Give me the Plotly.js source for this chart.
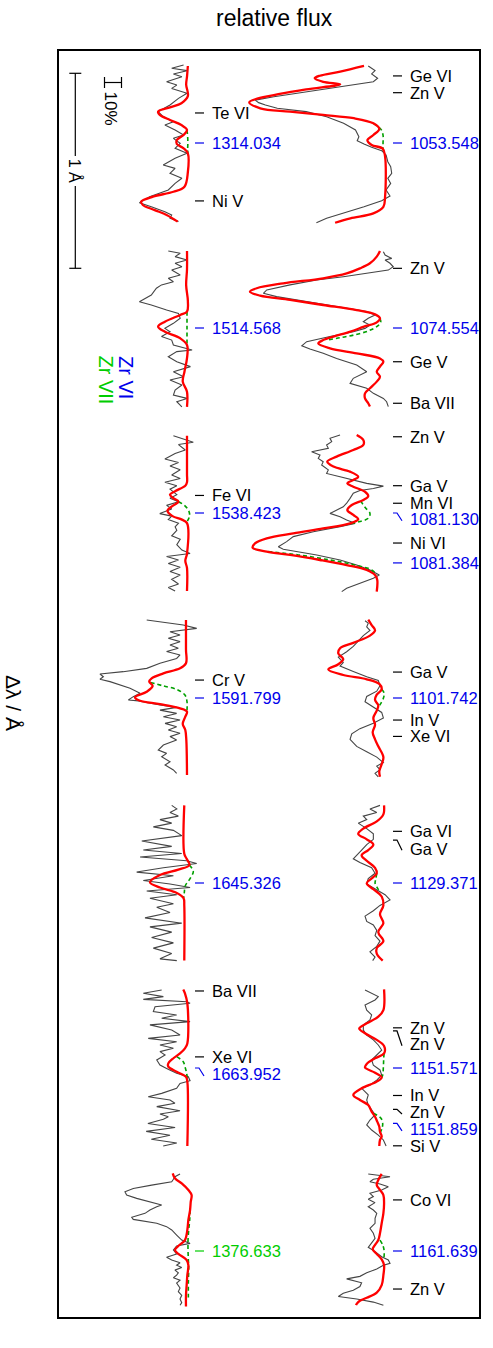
<!DOCTYPE html>
<html><head><meta charset="utf-8">
<script src="https://cdn.plot.ly/plotly-3.0.1.min.js"></script>
<style>html,body{margin:0;padding:0;background:#fff}#chart{width:493px;height:1348px}</style>
</head><body><div id="chart"></div>
<script>
// ---------- DATA: [Δλ (Å, relative to the Zr line), relative flux] ----------
const obsL1=[[-0.400,0.98],[-0.383,0.91],[-0.371,1.00],[-0.354,0.92],[-0.340,0.97],[-0.314,0.88],[-0.297,0.94],[-0.280,0.91],[-0.255,1.00],[-0.229,0.95],[-0.195,0.90],[-0.161,0.83],[-0.135,0.86],[-0.109,0.92],[-0.092,0.87],[-0.067,0.93],[-0.041,0.98],[-0.024,0.92],[0.002,0.96],[0.027,0.93],[0.053,1.00],[0.078,0.93],[0.113,0.86],[0.130,0.93],[0.155,0.90],[0.181,0.97],[0.207,0.93],[0.241,0.89],[0.275,0.78],[0.306,0.72],[0.327,0.79],[0.352,0.87],[0.369,0.91],[0.386,0.90],[0.403,0.95]];
const modL1=[[-0.395,1.005],[-0.34,1.0],[-0.30,0.995],[-0.24,1.005],[-0.204,0.967],[-0.183,0.90],[-0.161,0.83],[-0.144,0.84],[-0.118,0.90],[-0.092,0.967],[-0.067,1.0],[-0.041,0.98],[-0.015,0.94],[0.005,0.94],[0.027,0.98],[0.053,1.005],[0.15,1.005],[0.224,0.985],[0.25,0.92],[0.275,0.80],[0.301,0.73],[0.318,0.74],[0.344,0.81],[0.369,0.88],[0.403,0.945]];
const noZrL1=[[-0.067,1.0],[-0.03,1.004],[0.0,1.005],[0.03,1.004],[0.053,1.005]];

const obsR1=[[-0.395,0.925],[-0.371,0.965],[-0.354,0.945],[-0.332,0.98],[-0.314,0.955],[-0.289,0.76],[-0.263,0.56],[-0.237,0.37],[-0.220,0.26],[-0.207,0.28],[-0.195,0.32],[-0.178,0.39],[-0.161,0.56],[-0.135,0.68],[-0.101,0.78],[-0.067,0.85],[-0.032,0.87],[-0.012,0.86],[0.005,0.90],[0.022,0.945],[0.039,1.004],[0.062,1.03],[0.096,1.04],[0.121,1.057],[0.155,1.063],[0.181,1.04],[0.207,1.057],[0.241,1.03],[0.272,1.053],[0.296,1.004],[0.327,0.90],[0.361,0.78],[0.386,0.68],[0.409,0.62]];
const modR1=[[-0.395,0.90],[-0.366,0.76],[-0.345,0.64],[-0.332,0.61],[-0.314,0.66],[-0.301,0.76],[-0.275,0.56],[-0.246,0.37],[-0.209,0.225],[-0.178,0.29],[-0.161,0.465],[-0.144,0.66],[-0.127,0.84],[-0.101,0.955],[-0.072,0.99],[-0.041,0.955],[-0.015,0.92],[0.01,0.945],[0.029,1.01],[0.07,1.024],[0.275,1.024],[0.327,1.014],[0.361,0.955],[0.386,0.82],[0.409,0.73]];
const noZrR1=[[-0.101,0.955],[-0.07,1.0],[-0.04,1.012],[0.0,1.012],[0.03,1.012],[0.05,1.02]];

const obsL2=[[-0.395,0.89],[-0.383,0.96],[-0.366,0.93],[-0.349,1.0],[-0.332,0.93],[-0.314,0.97],[-0.297,0.91],[-0.272,0.96],[-0.255,0.89],[-0.237,0.92],[-0.221,0.85],[-0.204,0.82],[-0.169,0.79],[-0.135,0.72],[-0.118,0.79],[-0.109,0.82],[-0.092,0.88],[-0.075,0.95],[-0.05,0.96],[-0.024,0.92],[0.002,0.87],[0.019,0.90],[0.044,0.85],[0.062,0.91],[0.087,0.92],[0.113,1.03],[0.121,0.94],[0.147,0.89],[0.173,0.94],[0.198,1.02],[0.224,0.92],[0.25,0.98],[0.267,0.90],[0.292,0.97],[0.318,0.93],[0.344,0.92],[0.361,1.0],[0.378,0.94],[0.404,0.97]];
const modL2=[[-0.395,1.0],[-0.30,1.0],[-0.22,0.995],[-0.14,1.005],[-0.084,1.0],[-0.067,0.96],[-0.032,0.87],[-0.007,0.83],[0.019,0.87],[0.053,0.96],[0.087,1.0],[0.155,1.0],[0.224,0.985],[0.275,0.975],[0.327,1.0],[0.404,1.0]];
const noZrL2=[[-0.084,1.0],[-0.04,1.0],[0.0,1.0],[0.04,1.0],[0.087,1.0]];

const obsR2=[[-0.391,1.014],[-0.374,1.024],[-0.357,1.063],[-0.349,1.024],[-0.332,1.053],[-0.314,1.072],[-0.297,1.043],[-0.28,0.916],[-0.263,0.778],[-0.246,0.622],[-0.221,0.465],[-0.195,0.328],[-0.178,0.308],[-0.161,0.386],[-0.135,0.563],[-0.109,0.739],[-0.084,0.916],[-0.067,0.965],[-0.05,0.925],[-0.032,0.896],[-0.015,0.935],[0.002,0.906],[0.019,0.837],[0.044,0.70],[0.07,0.563],[0.091,0.534],[0.108,0.582],[0.13,0.66],[0.156,0.739],[0.19,0.857],[0.224,0.916],[0.258,0.837],[0.284,0.818],[0.309,0.916],[0.335,0.955],[0.361,1.014],[0.378,1.033],[0.403,1.043]];
const modR2=[[-0.395,0.994],[-0.366,0.975],[-0.332,0.935],[-0.306,0.876],[-0.28,0.798],[-0.255,0.66],[-0.229,0.425],[-0.204,0.269],[-0.186,0.229],[-0.166,0.288],[-0.144,0.465],[-0.118,0.66],[-0.092,0.857],[-0.07,0.965],[-0.05,0.994],[-0.029,0.975],[-0.007,0.90],[0.019,0.82],[0.044,0.72],[0.062,0.66],[0.079,0.631],[0.104,0.70],[0.13,0.857],[0.156,0.994],[0.173,1.014],[0.198,0.994],[0.224,0.975],[0.25,0.994],[0.275,0.975],[0.309,0.935],[0.335,0.906],[0.361,0.906],[0.386,0.925],[0.403,0.935]];
const noZrR2=[[-0.05,0.994],[-0.029,0.998],[-0.007,0.975],[0.015,0.925],[0.036,0.84],[0.05,0.76],[0.062,0.68]];

const obsL3=[[-0.396,0.92],[-0.378,0.99],[-0.363,1.037],[-0.351,0.95],[-0.323,0.99],[-0.305,0.93],[-0.277,0.87],[-0.259,0.95],[-0.241,0.90],[-0.222,0.96],[-0.195,0.91],[-0.177,0.96],[-0.158,0.87],[-0.14,0.94],[-0.122,0.90],[-0.094,0.94],[-0.076,0.90],[-0.058,0.95],[-0.039,0.88],[-0.021,0.91],[0.003,0.84],[0.016,0.91],[0.034,0.89],[0.052,0.95],[0.071,0.93],[0.089,0.94],[0.117,0.91],[0.135,0.96],[0.162,0.94],[0.19,0.97],[0.208,1.018],[0.223,0.88],[0.241,0.95],[0.259,0.89],[0.278,0.96],[0.30,0.90],[0.318,0.96],[0.34,0.91],[0.364,0.95],[0.382,0.89],[0.40,0.93]];
const modL3=[[-0.396,1.0],[-0.30,1.0],[-0.20,1.0],[-0.158,1.0],[-0.14,0.99],[-0.112,0.93],[-0.094,0.90],[-0.076,0.92],[-0.058,0.95],[-0.039,0.92],[-0.012,0.885],[0.016,0.915],[0.034,0.97],[0.052,1.0],[0.208,1.0],[0.245,0.99],[0.282,1.0],[0.40,1.0]];
const noZrL3=[[-0.058,0.95],[-0.039,0.985],[-0.012,1.01],[0.016,1.015],[0.045,1.0]];

const obsR3=[[-0.40,0.759],[-0.383,0.70],[-0.366,0.71],[-0.349,0.68],[-0.332,0.69],[-0.314,0.592],[-0.297,0.641],[-0.28,0.631],[-0.263,0.66],[-0.246,0.651],[-0.221,0.69],[-0.203,0.68],[-0.186,0.759],[-0.169,0.837],[-0.152,0.916],[-0.138,1.014],[-0.126,0.955],[-0.115,0.876],[-0.101,0.837],[-0.075,0.818],[-0.05,0.798],[-0.032,0.778],[-0.015,0.739],[0.002,0.70],[0.019,0.759],[0.036,0.798],[0.053,0.847],[0.07,0.759],[0.096,0.602],[0.121,0.484],[0.147,0.445],[0.173,0.396],[0.186,0.425],[0.198,0.504],[0.215,0.622],[0.241,0.759],[0.267,0.857],[0.292,0.935],[0.318,0.99],[0.335,0.955],[0.361,0.876],[0.386,0.798],[0.403,0.769]];
const modR3=[[-0.40,0.857],[-0.374,0.896],[-0.349,0.896],[-0.323,0.837],[-0.289,0.739],[-0.263,0.684],[-0.238,0.72],[-0.212,0.818],[-0.186,0.866],[-0.169,0.837],[-0.152,0.802],[-0.135,0.837],[-0.109,0.906],[-0.087,0.925],[-0.067,0.896],[-0.041,0.828],[-0.015,0.802],[0.01,0.837],[0.032,0.866],[0.053,0.818],[0.079,0.66],[0.104,0.484],[0.13,0.328],[0.156,0.259],[0.178,0.245],[0.198,0.328],[0.215,0.465],[0.241,0.641],[0.267,0.798],[0.292,0.916],[0.318,0.965],[0.344,0.978],[0.403,0.975]];
const noZrR3a=[[-0.062,0.88],[-0.029,0.906],[0.002,0.935],[0.027,0.925],[0.045,0.87],[0.058,0.80]];
const noZrR3b=[[0.198,0.337],[0.215,0.514],[0.241,0.70],[0.267,0.847],[0.292,0.945],[0.318,0.975]];

const obsL4=[[-0.40,0.763],[-0.386,0.88],[-0.374,0.978],[-0.357,1.057],[-0.34,0.90],[-0.323,0.959],[-0.306,0.89],[-0.289,0.959],[-0.272,0.90],[-0.255,0.949],[-0.238,0.88],[-0.221,0.959],[-0.203,0.939],[-0.178,0.841],[-0.152,0.763],[-0.135,0.625],[-0.123,0.488],[-0.109,0.508],[-0.096,0.488],[-0.084,0.547],[-0.067,0.606],[-0.05,0.665],[-0.024,0.724],[-0.007,0.684],[0.01,0.655],[0.015,0.714],[0.036,0.841],[0.048,0.939],[0.062,0.841],[0.079,0.939],[0.096,0.861],[0.113,0.959],[0.13,0.871],[0.147,0.939],[0.164,0.89],[0.181,0.959],[0.198,0.90],[0.215,0.939],[0.241,0.861],[0.267,0.831],[0.284,0.88],[0.301,0.851],[0.327,0.90],[0.344,0.871],[0.369,0.92],[0.386,0.939]];
const modL4=[[-0.40,0.994],[-0.25,0.994],[-0.178,0.994],[-0.152,0.959],[-0.126,0.861],[-0.101,0.792],[-0.084,0.778],[-0.062,0.798],[-0.032,0.763],[-0.003,0.694],[0.014,0.724],[0.031,0.841],[0.053,0.959],[0.07,1.0],[0.096,0.99],[0.133,0.975],[0.164,0.99],[0.215,0.996],[0.395,1.0]];
const noZrL4=[[-0.08,0.785],[-0.062,0.861],[-0.044,0.939],[-0.015,0.988],[0.019,1.0],[0.062,1.0]];

const obsR4=[[-0.396,0.906],[-0.384,0.925],[-0.365,0.916],[-0.347,0.935],[-0.32,0.896],[-0.292,0.866],[-0.265,0.837],[-0.237,0.798],[-0.21,0.749],[-0.182,0.778],[-0.164,0.759],[-0.136,0.837],[-0.109,0.916],[-0.09,0.984],[-0.063,0.994],[-0.035,0.975],[-0.008,0.916],[0.019,0.906],[0.047,0.955],[0.074,1.004],[0.102,1.014],[0.129,0.955],[0.157,0.876],[0.184,0.828],[0.212,0.818],[0.248,0.857],[0.276,0.916],[0.303,0.975],[0.331,1.014],[0.349,0.975],[0.367,0.994],[0.386,0.965],[0.404,0.984]];
const modR4=[[-0.402,0.925],[-0.374,0.945],[-0.347,0.965],[-0.32,0.935],[-0.283,0.837],[-0.255,0.759],[-0.228,0.749],[-0.20,0.778],[-0.173,0.749],[-0.146,0.69],[-0.118,0.778],[-0.096,0.916],[-0.072,0.99],[-0.045,1.004],[-0.017,0.975],[0.01,0.965],[0.038,0.984],[0.065,0.975],[0.102,0.955],[0.138,0.965],[0.175,0.951],[0.212,0.965],[0.248,0.984],[0.303,1.014],[0.34,1.004],[0.376,0.99],[0.404,0.994]];
const noZrR4=[[-0.045,1.004],[-0.026,1.018],[0.001,1.014],[0.029,0.998],[0.047,0.984]];

const obsL5=[[-0.398,0.91],[-0.38,0.94],[-0.362,0.90],[-0.343,0.949],[-0.325,0.841],[-0.307,0.91],[-0.288,0.802],[-0.27,0.92],[-0.243,0.969],[-0.215,0.734],[-0.188,0.91],[-0.169,0.743],[-0.151,0.969],[-0.133,0.724],[-0.114,0.998],[-0.10,1.057],[-0.078,0.861],[-0.056,0.704],[-0.037,0.92],[-0.013,0.743],[0.005,0.90],[0.023,1.018],[0.041,0.763],[0.06,0.94],[0.078,0.782],[0.106,0.92],[0.124,0.822],[0.151,0.90],[0.179,0.753],[0.206,0.969],[0.225,0.782],[0.252,0.91],[0.279,0.792],[0.307,0.92],[0.334,0.802],[0.362,0.91],[0.389,0.841],[0.398,0.94]];
const modL5=[[-0.398,0.984],[-0.15,0.984],[-0.124,0.998],[-0.092,1.014],[-0.069,0.949],[-0.041,0.841],[-0.004,0.782],[0.023,0.841],[0.051,0.94],[0.078,0.98],[0.115,0.984],[0.398,0.984]];
const noZrL5=[[-0.092,1.014],[-0.059,1.037],[-0.023,1.018],[0.014,0.99],[0.05,0.984],[0.078,0.98]];

const obsR5=[[-0.398,0.994],[-0.38,0.935],[-0.362,0.975],[-0.343,0.896],[-0.325,0.916],[-0.307,0.866],[-0.279,0.916],[-0.252,0.955],[-0.224,0.955],[-0.197,0.916],[-0.169,0.886],[-0.142,0.857],[-0.124,0.837],[-0.105,0.876],[-0.078,0.945],[-0.05,0.965],[-0.023,0.925],[0.005,0.916],[0.032,0.965],[0.06,1.024],[0.087,1.053],[0.115,0.994],[0.142,0.955],[0.17,0.906],[0.197,0.916],[0.215,0.955],[0.243,0.975],[0.27,0.965],[0.298,0.994],[0.325,0.975],[0.353,0.935],[0.38,0.965],[0.398,0.951]];
const modR5=[[-0.398,1.018],[-0.352,1.014],[-0.316,0.975],[-0.279,0.896],[-0.252,0.866],[-0.224,0.916],[-0.197,0.955],[-0.169,0.925],[-0.142,0.886],[-0.114,0.916],[-0.078,0.965],[-0.05,0.975],[-0.023,0.945],[0.001,0.916],[0.032,0.955],[0.069,1.004],[0.115,1.014],[0.16,0.994],[0.206,1.014],[0.252,0.984],[0.298,1.014],[0.334,0.975],[0.362,0.975],[0.398,1.01]];
const noZrR5=[[-0.05,0.975],[-0.023,0.97],[0.001,0.965],[0.02,0.975],[0.041,0.99]];

const obsL6=[[-0.40,0.851],[-0.383,0.743],[-0.366,0.861],[-0.352,0.743],[-0.34,0.998],[-0.332,1.018],[-0.314,0.812],[-0.289,0.802],[-0.272,0.939],[-0.255,0.851],[-0.238,1.018],[-0.221,0.782],[-0.195,0.91],[-0.169,0.959],[-0.152,0.772],[-0.135,0.939],[-0.118,0.841],[-0.101,0.92],[-0.084,0.841],[-0.067,0.871],[-0.041,0.822],[-0.015,0.841],[0.002,0.88],[0.027,0.939],[0.045,1.008],[0.065,1.018],[0.079,0.959],[0.104,0.939],[0.13,0.851],[0.147,0.772],[0.164,0.90],[0.181,0.929],[0.198,0.822],[0.219,0.959],[0.236,0.841],[0.25,0.89],[0.263,0.861],[0.285,0.77],[0.305,0.93],[0.325,0.76],[0.345,0.90],[0.365,0.79],[0.385,0.94],[0.40,0.86]];
const modL6=[[-0.403,0.978],[-0.383,0.988],[-0.332,1.002],[-0.126,1.002],[-0.101,0.988],[-0.075,0.959],[-0.05,0.92],[-0.024,0.89],[-0.007,0.89],[0.019,0.939],[0.045,0.994],[0.07,1.002],[0.40,1.002]];
const noZrL6=[[-0.058,0.94],[-0.032,0.978],[-0.007,0.988],[0.027,0.998],[0.053,1.002]];

const obsR6=[[-0.40,0.906],[-0.383,0.945],[-0.366,0.984],[-0.349,0.965],[-0.323,0.906],[-0.297,0.916],[-0.272,0.945],[-0.246,0.935],[-0.221,0.896],[-0.195,0.896],[-0.169,0.916],[-0.144,0.955],[-0.118,0.984],[-0.092,1.004],[-0.067,0.975],[-0.041,0.945],[-0.015,0.955],[0.01,0.994],[0.036,1.004],[0.062,0.975],[0.087,0.935],[0.104,0.886],[0.121,0.906],[0.138,0.925],[0.164,0.916],[0.19,0.925],[0.215,0.945],[0.241,0.965],[0.267,0.935],[0.292,0.916],[0.318,0.945],[0.344,0.984],[0.369,1.014],[0.40,1.03]];
const modR6=[[-0.403,1.018],[-0.297,1.014],[-0.263,0.984],[-0.229,0.916],[-0.203,0.872],[-0.178,0.906],[-0.144,0.975],[-0.113,1.018],[-0.075,1.018],[-0.05,0.965],[-0.021,0.916],[-0.003,0.906],[0.024,0.965],[0.048,1.004],[0.07,0.975],[0.104,0.886],[0.138,0.837],[0.164,0.876],[0.19,0.925],[0.224,0.945],[0.25,0.965],[0.275,0.978],[0.301,0.99],[0.327,0.994],[0.352,1.004],[0.369,0.994],[0.40,0.99]];
const noZrR6a=[[-0.075,1.018],[-0.05,1.016],[-0.007,1.014],[0.036,1.01],[0.048,1.004]];
const noZrR6b=[[0.232,0.955],[0.258,1.0],[0.284,1.01],[0.309,1.006],[0.335,0.994]];

const obsL7=[[-0.395,0.959],[-0.381,0.929],[-0.368,0.92],[-0.355,0.91],[-0.338,0.792],[-0.321,0.684],[-0.304,0.635],[-0.287,0.645],[-0.27,0.704],[-0.253,0.782],[-0.236,0.851],[-0.227,0.822],[-0.21,0.782],[-0.193,0.753],[-0.173,0.675],[-0.162,0.684],[-0.142,0.822],[-0.125,0.88],[-0.108,0.91],[-0.082,0.939],[-0.056,0.969],[-0.039,1.018],[-0.026,0.939],[-0.005,0.92],[0.015,0.939],[0.032,0.88],[0.046,0.91],[0.06,0.959],[0.073,0.939],[0.085,0.969],[0.098,0.929],[0.112,0.949],[0.124,0.939],[0.137,0.92],[0.15,0.959],[0.165,0.939],[0.178,0.949],[0.19,0.959],[0.208,0.949],[0.227,0.969],[0.246,0.959],[0.265,0.969],[0.278,0.959]];
const modL7=[[-0.398,0.916],[-0.373,0.929],[-0.347,0.969],[-0.313,1.008],[-0.287,1.027],[-0.253,1.022],[-0.21,1.018],[-0.159,1.008],[-0.108,1.002],[-0.056,0.988],[-0.026,0.949],[-0.005,0.929],[0.015,0.949],[0.046,0.998],[0.073,1.008],[0.124,1.002],[0.175,0.998],[0.227,0.994],[0.285,0.994]];
const noZrL7=[[-0.21,1.018],[-0.16,1.016],[-0.108,1.01],[-0.056,1.006],[-0.005,1.006],[0.046,1.008],[0.088,1.01],[0.163,1.008],[0.238,1.008]];

const obsR7=[[-0.395,0.925],[-0.381,1.053],[-0.368,0.955],[-0.355,0.935],[-0.344,0.994],[-0.33,1.043],[-0.313,1.004],[-0.296,0.935],[-0.279,0.955],[-0.265,0.925],[-0.248,0.965],[-0.227,0.925],[-0.21,0.955],[-0.193,0.975],[-0.167,0.965],[-0.142,0.965],[-0.116,0.935],[-0.091,0.955],[-0.065,0.965],[-0.039,0.945],[-0.019,0.925],[0.003,0.965],[0.029,1.004],[0.046,1.043],[0.063,1.053],[0.073,1.014],[0.092,0.975],[0.112,0.916],[0.13,0.876],[0.143,0.798],[0.163,0.886],[0.182,0.876],[0.201,0.837],[0.217,0.778],[0.233,0.749],[0.246,0.857],[0.262,0.955],[0.278,1.014]];
const modR7=[[-0.395,1.004],[-0.364,0.984],[-0.338,0.975],[-0.313,0.994],[-0.287,1.014],[-0.245,1.018],[-0.193,1.014],[-0.142,1.004],[-0.091,0.994],[-0.056,0.984],[-0.031,0.965],[-0.009,0.951],[0.015,0.975],[0.043,1.004],[0.073,1.018],[0.124,1.014],[0.175,1.004],[0.214,0.975],[0.24,0.916],[0.255,0.876],[0.271,0.857],[0.278,0.853]];
const noZrR7=[[-0.056,0.994],[-0.031,1.01],[-0.005,1.018],[0.029,1.018],[0.046,1.014]];

// line identifications: [label, Δλ of line, Δλ of text, ion ('' = other, 'VI' = Zr VI, 'VII' = Zr VII)]
const labL1=[['Te VI',-0.154,-0.154,''],['1314.034',0,0,'VI'],['Ni V',0.297,0.297,'']];
const labR1=[['Ge VI',-0.344,-0.344,''],['Zn V',-0.258,-0.258,''],['1053.548',0,0,'VI']];
const labL2=[['1514.568',0,0,'VI']];
const labR2=[['Zn V',-0.306,-0.306,''],['1074.554',0,0,'VI'],['Ge V',0.173,0.173,''],['Ba VII',0.386,0.386,'']];
const labL3=[['Fe VI',-0.09,-0.09,''],['1538.423',0,0,'VI']];
const labR3=[['Zn V',-0.391,-0.391,''],['Ga V',-0.14,-0.14,''],['Mn VI',-0.05,-0.05,''],['1081.130',0,0.032,'VI'],['Ni VI',0.154,0.154,''],['1081.384',0.256,0.258,'VI']];
const labL4=[['Cr V',-0.092,-0.092,''],['1591.799',0,0,'VI']];
const labR4=[['Ga V',-0.133,-0.133,''],['1101.742',0,0,'VI'],['In V',0.113,0.113,''],['Xe VI',0.197,0.197,'']];
const labL5=[['1645.326',0,0,'VI']];
const labR5=[['Ga VI',-0.265,-0.265,''],['Ga V',-0.22,-0.176,''],['1129.371',0,0,'VI']];
const labL6=[['Ba VII',-0.395,-0.395,''],['Xe VI',-0.057,-0.057,''],['1663.952',0,0.033,'VI']];
const labR6=[['Zn V',-0.206,-0.206,''],['Zn V',-0.19,-0.122,''],['1151.571',0,0,'VI'],['In V',0.141,0.141,''],['Zn V',0.212,0.228,''],['1151.859',0.284,0.314,'VI'],['Si V',0.399,0.399,'']];
const labL7=[['1376.633',0,0,'VII']];
const labR7=[['Co VI',-0.262,-0.262,''],['1161.639',0,0,'VI'],['Zn V',0.195,0.195,'']];

const legendIons=['Zr VI','Zr VII'];

// ---------- LAYOUT GEOMETRY ----------
const W=493,H=1348, ML=58, MR=13, MT=50, MB=30;
const X0=ML, X1=W-MR, Y0=MT, Y1=H-MB;
const PW=X1-X0, PH=Y1-Y0;
const pxPerFlux=170, pxPerA=195;
const contPx=[187,381];
const rowPx=[143,328,513,698,883,1068,1251];
const FONT='Liberation Sans, Arial, Helvetica, sans-serif';
const COL={'':'#000000','VI':'rgb(0,0,235)','VII':'rgb(0,205,0)'};
const LABEL_SIZE=16.5;

const panels=[
 [obsL1,modL1,[noZrL1],labL1,0,0],[obsR1,modR1,[noZrR1],labR1,1,0],
 [obsL2,modL2,[noZrL2],labL2,0,1],[obsR2,modR2,[noZrR2],labR2,1,1],
 [obsL3,modL3,[noZrL3],labL3,0,2],[obsR3,modR3,[noZrR3a,noZrR3b],labR3,1,2],
 [obsL4,modL4,[noZrL4],labL4,0,3],[obsR4,modR4,[noZrR4],labR4,1,3],
 [obsL5,modL5,[noZrL5],labL5,0,4],[obsR5,modR5,[noZrR5],labR5,1,4],
 [obsL6,modL6,[noZrL6],labL6,0,5],[obsR6,modR6,[noZrR6a,noZrR6b],labR6,1,5],
 [obsL7,modL7,[noZrL7],labL7,0,6],[obsR7,modR7,[noZrR7],labR7,1,6]
];

const layout={
  width:W,height:H,margin:{l:ML,r:MR,t:MT,b:MB,pad:0},
  paper_bgcolor:'#ffffff',plot_bgcolor:'rgba(0,0,0,0)',showlegend:false,
  font:{family:FONT,size:LABEL_SIZE,color:'#000'},
  annotations:[],shapes:[]
};
const xIds=['x','x2'];
['xaxis','xaxis2'].forEach((k,c)=>{
  layout[k]={range:[1-(contPx[c]-X0)/pxPerFlux,1+(X1-contPx[c])/pxPerFlux],visible:false,fixedrange:true};
  if(c>0) layout[k].overlaying='x'; else layout[k].domain=[0,1];
});
const yIds=[];
rowPx.forEach((py,r)=>{
  const key=r===0?'yaxis':'yaxis'+(r+1);
  yIds.push(r===0?'y':'y'+(r+1));
  layout[key]={range:[(Y1-py)/pxPerA,(Y0-py)/pxPerA],visible:false,fixedrange:true};
  if(r>0) layout[key].overlaying='y'; else layout[key].domain=[0,1];
});

const gray=[],green=[],red=[];
panels.forEach(([obs,mod,nozr,labs,c,r])=>{
  const xa=xIds[c], ya=yIds[r];
  gray.push({type:'scatter',mode:'lines',xaxis:xa,yaxis:ya,x:obs.map(p=>p[1]),y:obs.map(p=>p[0]),
    line:{color:'#454545',width:1.1},hoverinfo:'skip'});
  nozr.forEach(seg=>green.push({type:'scatter',mode:'lines',xaxis:xa,yaxis:ya,x:seg.map(p=>p[1]),y:seg.map(p=>p[0]),
    line:{color:'rgb(0,160,0)',width:1.6,dash:'4px,3px',shape:'spline'},hoverinfo:'skip'}));
  red.push({type:'scatter',mode:'lines',xaxis:xa,yaxis:ya,x:mod.map(p=>p[1]),y:mod.map(p=>p[0]),
    line:{color:'#ff0000',width:2.3,shape:'spline'},hoverinfo:'skip'});
  const f=px=>1+(px-contPx[c])/pxPerFlux;
  const dx0=c===0?195:393, tx=c===0?211:409;
  labs.forEach(([txt,yl,yt,ion])=>{
    const color=COL[ion];
    let path;
    if(Math.abs(yt-yl)<0.004){
      path=`M ${f(dx0)},${yl} L ${f(dx0+9)},${yl}`;
    } else {
      path=`M ${f(dx0)},${yl} L ${f(dx0+4)},${yl} L ${f(dx0+9)},${yt+0.008}`;
    }
    layout.shapes.push({type:'path',xref:xa,yref:ya,path:path,line:{color:color,width:1.2}});
    layout.annotations.push({xref:xa,yref:ya,x:f(tx),y:yt,text:txt,showarrow:false,
      xanchor:'left',yanchor:'middle',font:{family:FONT,size:LABEL_SIZE,color:color},borderpad:0});
  });
});

const px=x=>(x-X0)/PW, py=y=>1-(y-Y0)/PH;
const pline=(xa,ya,xb,yb,w)=>layout.shapes.push({type:'line',xref:'paper',yref:'paper',x0:px(xa),y0:py(ya),x1:px(xb),y1:py(yb),line:{color:'#000',width:w||1.2}});
layout.shapes.push({type:'rect',xref:'paper',yref:'paper',x0:0,x1:1,y0:0,y1:1,line:{color:'#000',width:2}});
const aTop=73.3, aBot=aTop+pxPerA, aX=75.3;
pline(aX,aTop,aX,156); pline(aX,186,aX,aBot);
pline(aX-6,aTop,aX+6,aTop); pline(aX-6,aBot,aX+6,aBot);
const fL=104.5, fR=fL+0.1*pxPerFlux;
pline(fL,82.5,fR,82.5); pline(fL,77,fL,88); pline(fR,77,fR,88);

const pann=(x,y,text,size,color,angle)=>layout.annotations.push({xref:'paper',yref:'paper',x:px(x),y:py(y),text:text,showarrow:false,
  xanchor:'center',yanchor:'middle',textangle:angle||0,font:{family:FONT,size:size,color:color||'#000'}});
pann(aX,171,'1 Å',16,'#000',90);
pann(110.5,108,'10%',17,'#000',90);
pann(126,377,legendIons[0],20,COL['VI'],90);
pann(105.5,380,legendIons[1],20,COL['VII'],90);
pann(274,18,'relative flux',23);
pann(14,703,'Δλ / Å',21,'#000',90);

Plotly.newPlot('chart',[...gray,...green,...red],layout,{staticPlot:true,displayModeBar:false});
</script></body></html>
